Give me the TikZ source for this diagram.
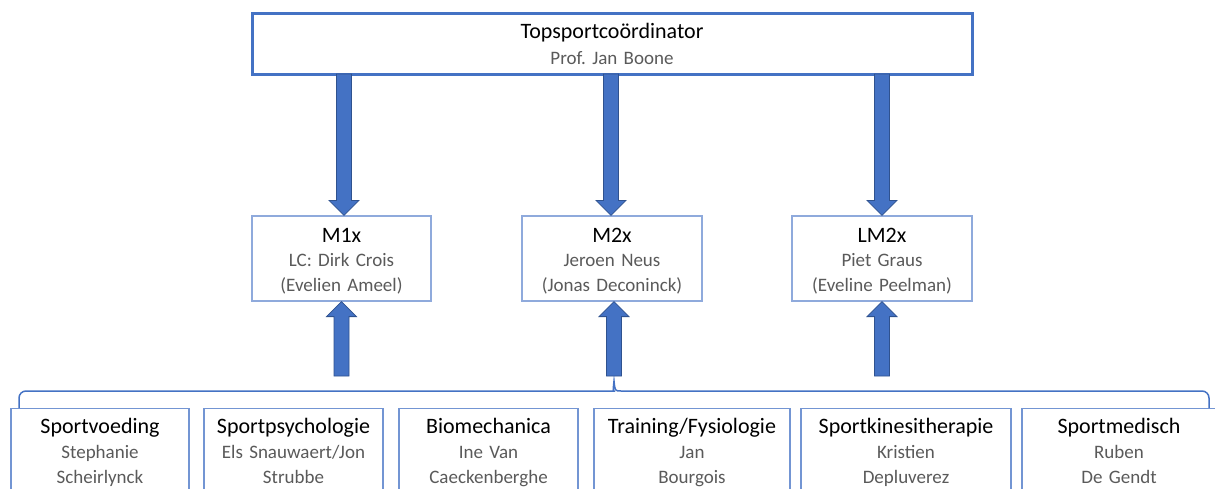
\documentclass[tikz,border=0pt]{standalone}
\usepackage{fontspec}
\setmainfont{Carlito}
\usetikzlibrary{calc}

\definecolor{ofblue}{HTML}{4472C4}
\definecolor{ofdark}{HTML}{2F528F}
\definecolor{oflight}{HTML}{8FAADC}
\definecolor{namegray}{HTML}{5A5A5A}

\newcommand{\boxtext}[2]{\frenchspacing{\fontsize{22}{25}\selectfont #1}\\{\color{namegray}#2}}
% block arrow from #1 to #2
\newcommand{\blockarrow}[2]{%
  \filldraw[bigarrow] let \p1=(#1), \p2=(#2), \p3=($(#2)!15pt!(#1)$) in
    (\x1-7.5pt,\y1) -- (\x1-7.5pt,\y3) -- (\x1-15pt,\y3) -- (\x2,\y2)
    -- (\x1+15pt,\y3) -- (\x1+7.5pt,\y3) -- (\x1+7.5pt,\y1) -- cycle;}

\tikzset{
  coordbox/.style={draw=ofblue, line width=3pt, text width=720pt, minimum height=61pt,
    align=center, inner sep=0pt, font=\fontsize{19}{26}\selectfont},
  boatbox/.style={draw=oflight, line width=1.2pt, text height=26pt, text depth=59pt,
    align=center, inner sep=0pt, font=\fontsize{19}{24.5}\selectfont},
  staffbox/.style={draw=ofblue!75, line width=1.2pt, anchor=north, align=center,
    inner sep=0pt, text height=25pt, text depth=70pt, font=\fontsize{19}{25}\selectfont},
  bigarrow/.style={fill=ofblue, draw=ofdark, line width=0.8pt},
  bracket/.style={draw=ofblue, line width=1.5pt},
}

\begin{document}
\begin{tikzpicture}[x=1pt, y=-1pt]
	\clip (0,0) rectangle (1215,488);
	\fill[white] (0,0) rectangle (1215,488);

	\node[coordbox] (top) at (612,43.5) {\boxtext{Topsportcoördinator}{Prof. Jan Boone}};

	\node[boatbox, text width=179pt] (m1) at (341.5,258.5) {\boxtext{M1x}{LC: Dirk Crois\\(Evelien Ameel)}};
	\node[boatbox, text width=180pt] (m2) at (612,258.5) {\boxtext{M2x}{Jeroen Neus\\(Jonas Deconinck)}};
	\node[boatbox, text width=180pt] (m3) at (882,258.5) {\boxtext{LM2x}{Piet Graus\\(Eveline Peelman)}};

	\node[staffbox, text width=178pt] (b1) at (100,408) {\boxtext{Sportvoeding}{Stephanie\\Scheirlynck}};
	\node[staffbox, text width=179pt] (b2) at (293.5,408) {\boxtext{Sportpsychologie}{Els Snauwaert/Jon\\Strubbe}};
	\node[staffbox, text width=179pt] (b3) at (488.5,408) {\boxtext{Biomechanica}{Ine Van\\Caeckenberghe}};
	\node[staffbox, text width=196pt] (b4) at (692,408) {\boxtext{Training/Fysiologie}{Jan\\Bourgois}};
	\node[staffbox, text width=210pt] (b5) at (906,408) {\boxtext{Sportkinesitherapie}{Kristien\\Depluverez}};
	\node[staffbox, text width=194pt] (b6) at (1119,408) {\boxtext{Sportmedisch}{Ruben\\De Gendt}};

	\coordinate (d1) at (344,74);
	\coordinate (d2) at (611,74);
	\coordinate (d3) at (882,74);
	\coordinate (u1) at (341.5,376);
	\coordinate (u2) at (614,376);
	\coordinate (u3) at (882,376);
	\coordinate (bl) at (19,408);
	\coordinate (br) at (1209,408);
	\coordinate (tip) at (614,381);

	\blockarrow{d1}{d1 |- m1.north}
	\blockarrow{d2}{d2 |- m2.north}
	\blockarrow{d3}{d3 |- m3.north}
	\blockarrow{u1}{u1 |- m1.south}
	\blockarrow{u2}{u2 |- m2.south}
	\blockarrow{u3}{u3 |- m3.south}

	\draw[bracket] (bl) [rounded corners=7pt] |- ($(tip)+(-7,10)$) [sharp corners]
		.. controls ($(tip)+(-1,10)$) .. (tip) .. controls ($(tip)+(1,10)$) .. ($(tip)+(7,10)$)
		[rounded corners=7pt] -| (br);
\end{tikzpicture}
\end{document}
